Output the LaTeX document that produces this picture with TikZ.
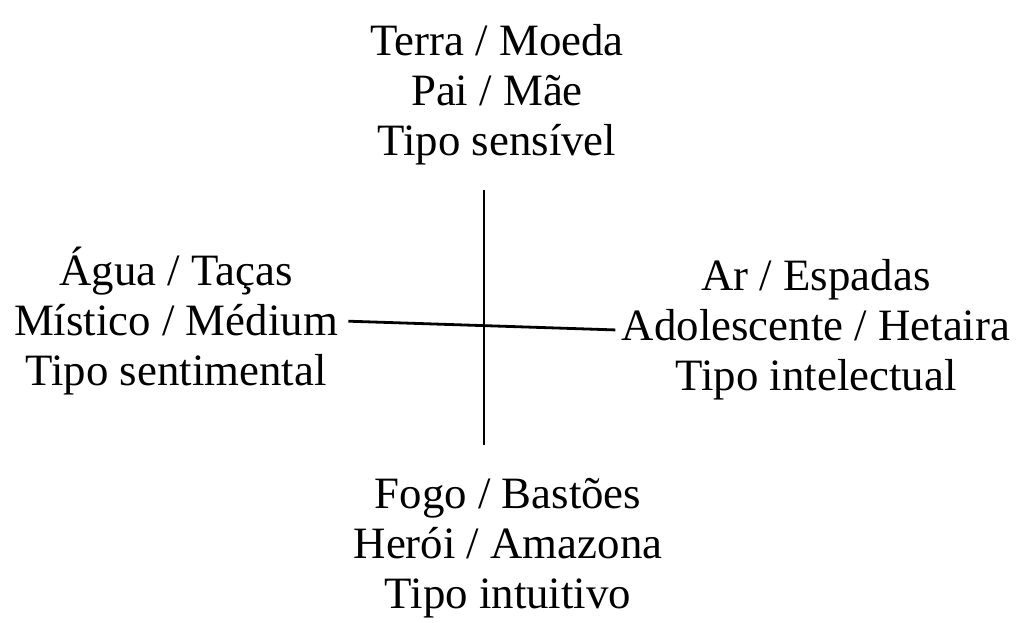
\documentclass[tikz,border=0pt]{standalone}
\usepackage{fontspec}
\setmainfont{Liberation Serif}
\usetikzlibrary{positioning}

\begin{document}
\begin{tikzpicture}[x=0.5bp,y=-0.5bp,thin]
\tikzstyle{every node}=[text=black, text centered, align=center, inner sep=2bp, font=\fontsize{22.5}{25}\selectfont]
\useasboundingbox (0,0) rectangle (1027,623);

\node		(N) at (497,95)  {Terra / Moeda\\Pai / Mãe\\Tipo sensível};
\node		(W) at (176,321) {Água / Taças\\Místico / Médium\\Tipo sentimental};
\node		(E) at (816,330) {Ar / Espadas\\Adolescente / Hetaira\\Tipo intelectual};
\node		(S) at (508,548) {Fogo / Bastões\\Herói / Amazona\\Tipo intuitivo};

\coordinate (top) at (484,190);
\coordinate (bot) at (484,445);

\draw[line width=1bp] (top) -- (bot);
\draw[line width=1.4bp,shorten <=3bp,shorten >=1bp] (W.east) -- (E.west);
\end{tikzpicture}
\end{document}
